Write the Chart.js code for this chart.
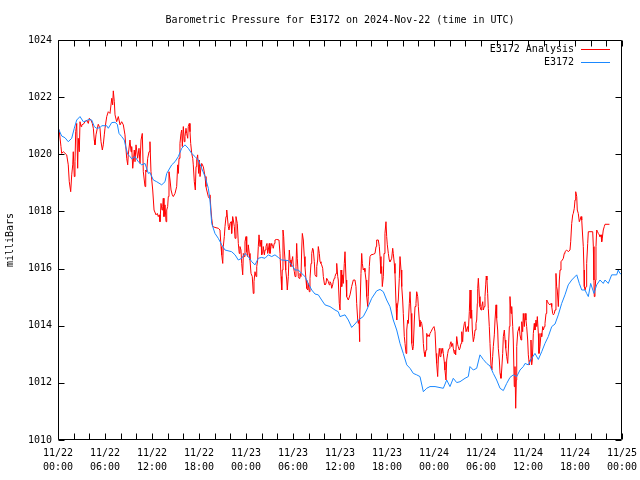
<!DOCTYPE html>
<html><head><meta charset="utf-8">
<script src="https://cdn.jsdelivr.net/npm/chart.js@4/dist/chart.umd.min.js"></script>
<style>html,body{margin:0;padding:0;background:#fff}canvas{display:block}</style>
</head><body><canvas id="c" width="640" height="480"></canvas>
<script>
// Hours since 2024-11-22 00:00 UTC
const analysisHours = [0,0.17,0.38,0.47,0.68,1.11,1.31,1.44,1.62,1.75,1.88,1.95,2.08,2.17,2.26,2.39,2.51,2.59,2.72,2.81,2.94,3.03,3.23,3.45,3.66,3.87,4.0,4.21,4.38,4.51,4.63,4.72,4.85,5.02,5.14,5.36,5.49,5.66,5.78,5.91,6.0,6.22,6.42,6.64,6.86,6.98,7.06,7.19,7.28,7.49,7.70,7.92,8.13,8.34,8.55,8.64,8.77,8.90,8.97,9.19,9.32,9.41,9.54,9.74,9.83,9.96,10.17,10.34,10.47,10.60,10.76,10.89,11.11,11.20,11.32,11.45,11.62,11.74,11.87,12.09,12.26,12.51,12.68,12.80,12.93,13.02,13.15,13.28,13.37,13.44,13.53,13.66,13.79,13.88,14.0,14.08,14.17,14.30,14.43,14.59,14.72,14.94,15.15,15.28,15.36,15.45,15.57,15.70,15.79,15.87,16.0,16.12,16.21,16.34,16.43,16.56,16.63,16.76,16.85,16.94,17.07,17.20,17.27,17.40,17.53,17.62,17.71,17.83,17.96,18.04,18.13,18.26,18.34,18.55,18.77,18.89,18.98,19.19,19.31,19.40,19.53,19.62,19.75,20.04,20.46,20.68,20.81,20.90,21.03,21.10,21.23,21.32,21.45,21.54,21.66,21.74,21.83,21.96,22.09,22.17,22.30,22.38,22.51,22.60,22.72,22.89,23.02,23.14,23.23,23.36,23.45,23.58,23.66,23.78,23.87,24.0,24.09,24.22,24.29,24.42,24.51,24.64,24.80,24.93,25.02,25.15,25.28,25.37,25.49,25.57,25.66,25.79,25.92,26.0,26.13,26.21,26.34,26.43,26.55,26.68,26.77,26.85,26.97,27.06,27.19,27.28,27.41,27.48,27.61,27.70,27.92,28.21,28.34,28.47,28.56,28.63,28.72,28.81,28.89,28.98,29.07,29.20,29.27,29.40,29.53,29.62,29.74,29.83,29.96,30.04,30.17,30.26,30.38,30.47,30.55,30.68,30.77,30.89,31.02,31.11,31.19,31.32,31.44,31.53,31.66,31.75,31.88,31.95,32.08,32.17,32.30,32.39,32.51,32.59,32.72,32.81,32.94,33.03,33.15,33.23,33.36,33.45,33.57,33.66,33.79,33.87,34.0,34.08,34.21,34.30,34.43,34.51,34.63,34.72,34.85,34.94,35.07,35.14,35.27,35.36,35.49,35.58,35.71,35.78,35.91,36.0,36.13,36.22,36.34,36.42,36.55,36.64,36.77,36.85,37.06,37.28,37.49,37.70,37.91,38.04,38.13,38.26,38.34,38.43,38.47,38.55,38.68,38.77,38.85,38.97,39.10,39.19,39.32,39.41,39.54,39.61,39.74,39.83,39.96,40.25,40.47,40.60,40.68,40.89,41.02,41.11,41.23,41.32,41.40,41.53,41.62,41.74,41.87,41.96,42.04,42.17,42.29,42.38,42.51,42.60,42.73,42.80,42.93,43.02,43.15,43.24,43.31,43.44,43.57,43.66,43.79,43.88,44.0,44.08,44.21,44.30,44.43,44.52,44.64,44.72,44.85,44.94,45.07,45.16,45.28,45.36,45.49,45.58,45.70,45.79,45.92,46.0,46.12,46.21,46.34,46.43,46.56,46.64,46.73,46.85,46.98,47.07,47.20,47.27,47.40,47.49,47.62,47.83,48.0,48.13,48.26,48.34,48.47,48.55,48.68,48.77,48.89,48.98,49.11,49.19,49.31,49.40,49.53,49.62,49.75,49.83,49.96,50.04,50.17,50.26,50.39,50.46,50.59,50.68,50.77,50.90,51.03,51.10,51.23,51.32,51.45,51.54,51.66,51.74,51.87,51.96,52.09,52.17,52.30,52.38,52.51,52.60,52.72,52.81,52.89,53.02,53.15,53.24,53.36,53.45,53.53,53.58,53.66,53.79,53.87,54.0,54.09,54.22,54.29,54.42,54.51,54.60,54.67,54.76,54.85,54.93,55.06,55.15,55.28,55.37,55.49,55.57,55.70,55.79,55.92,56.0,56.13,56.21,56.34,56.43,56.55,56.64,56.77,56.85,56.98,57.07,57.16,57.28,57.41,57.49,57.62,57.70,57.83,57.92,58.05,58.12,58.25,58.34,58.43,58.51,58.56,58.69,58.77,58.89,58.98,59.11,59.20,59.32,59.40,59.53,59.62,59.74,59.83,59.96,60.04,60.17,60.26,60.38,60.47,60.55,60.68,60.80,60.89,61.02,61.11,61.19,61.32,61.40,61.53,61.66,61.75,61.88,61.96,62.09,62.17,62.30,62.39,62.51,62.59,62.81,62.94,63.03,63.15,63.24,63.36,63.45,63.57,63.66,63.74,63.87,64.0,64.09,64.21,64.38,64.51,64.63,64.72,64.94,65.14,65.36,65.45,65.58,65.71,65.78,65.91,66.0,66.09,66.22,66.29,66.42,66.55,66.64,66.77,66.86,66.93,67.06,67.15,67.19,67.28,67.41,67.49,67.62,67.70,68.26,68.34,68.42,68.46,68.55,68.64,68.68,68.77,68.89,68.97,69.10,69.19,69.32,69.41,69.48,69.61,69.74,69.83,70.40];
const analysisPressure = [1020.97,1020.79,1020.27,1020.03,1020.09,1019.98,1019.63,1019.04,1018.69,1019.28,1019.63,1020.09,1019.22,1019.74,1020.79,1021.08,1019.51,1020.56,1020.09,1021.14,1020.97,1021.03,1021.05,1021.14,1021.2,1021.08,1021.26,1021.2,1021.08,1020.91,1020.5,1020.33,1020.68,1020.91,1021.05,1020.91,1020.44,1020.15,1020.33,1020.68,1020.91,1021.32,1021.49,1021.43,1021.96,1021.73,1022.22,1021.84,1021.38,1021.14,1021.32,1021.03,1021.14,1021.03,1020.68,1020.33,1019.86,1019.63,1019.98,1020.5,1020.09,1020.27,1019.51,1020.15,1019.74,1020.33,1019.86,1020.21,1019.68,1020.5,1020.73,1019.39,1018.87,1019.45,1019.39,1019.86,1020.09,1020.44,1019.39,1018.75,1018.05,1017.88,1017.93,1017.82,1017.88,1017.64,1018.28,1018.05,1018.17,1018.46,1017.82,1018.23,1017.64,1018.05,1018.17,1018.52,1019.39,1019.1,1018.75,1018.58,1018.52,1018.63,1018.87,1019.63,1019.33,1019.86,1020.38,1020.73,1020.85,1020.27,1020.97,1020.44,1020.62,1020.91,1020.73,1020.56,1020.97,1021.08,1020.79,1020.38,1020.03,1019.86,1019.63,1019.04,1018.75,1019.57,1019.8,1019.98,1019.33,1019.8,1019.22,1019.57,1019.68,1019.57,1019.22,1018.87,1018.75,1018.52,1018.46,1018.58,1018.05,1017.76,1017.47,1017.44,1017.41,1017.35,1016.77,1016.48,1016.18,1016.77,1017.12,1017.47,1017.82,1018.05,1017.7,1017.47,1017.35,1017.58,1017.64,1017.23,1017.82,1017.7,1017.47,1017.06,1017.82,1017.58,1016.88,1016.53,1016.77,1016.65,1016.18,1015.78,1016.53,1016.42,1016.94,1017.12,1016.59,1016.42,1016.83,1016.53,1016.3,1015.83,1015.72,1015.13,1015.54,1015.89,1015.72,1016.07,1016.3,1016.77,1017.18,1016.77,1017.0,1016.48,1016.53,1016.77,1016.48,1016.65,1016.77,1016.88,1016.53,1016.65,1016.88,1016.53,1016.77,1016.88,1016.77,1016.71,1016.88,1017.0,1017.02,1017.0,1016.53,1015.72,1015.25,1015.95,1017.35,1017.12,1016.65,1016.3,1015.95,1015.6,1015.25,1015.72,1016.65,1016.3,1016.07,1016.24,1016.42,1016.07,1015.89,1015.72,1016.07,1016.88,1016.36,1015.72,1015.66,1015.83,1015.72,1016.65,1017.23,1017.0,1016.42,1016.07,1015.6,1015.31,1015.25,1015.48,1015.19,1015.66,1016.18,1016.53,1016.71,1016.65,1016.24,1015.78,1015.72,1016.07,1016.3,1016.77,1016.53,1016.24,1016.18,1016.13,1016.01,1015.72,1015.48,1015.43,1015.48,1015.66,1015.6,1015.54,1015.43,1015.54,1015.48,1015.31,1015.43,1015.54,1015.66,1015.72,1015.83,1016.18,1015.72,1015.6,1014.78,1014.55,1015.95,1015.37,1015.78,1015.48,1016.18,1016.59,1015.6,1015.02,1014.9,1015.08,1015.37,1015.6,1015.6,1015.37,1014.78,1014.2,1014.08,1014.2,1013.44,1014.2,1015.83,1016.53,1016.18,1015.95,1016.01,1015.89,1015.6,1015.02,1014.67,1015.02,1016.07,1016.42,1016.48,1016.5,1016.53,1016.77,1017.0,1017.0,1016.77,1016.42,1015.83,1016.07,1015.37,1015.72,1016.53,1017.23,1017.64,1017.12,1016.83,1016.53,1016.3,1016.24,1016.3,1016.36,1016.71,1016.53,1016.18,1015.83,1014.78,1014.2,1014.61,1014.9,1015.66,1016.42,1015.95,1015.37,1014.9,1014.43,1013.62,1013.38,1013.03,1013.85,1014.2,1014.08,1014.78,1015.19,1014.43,1013.38,1013.15,1013.27,1014.2,1014.67,1014.78,1015.19,1015.02,1014.67,1014.2,1013.97,1014.14,1014.08,1013.85,1013.38,1013.09,1012.92,1013.15,1013.73,1013.62,1013.68,1013.62,1013.73,1013.79,1013.91,1013.97,1013.79,1013.03,1012.68,1012.22,1012.8,1013.21,1012.92,1013.21,1013.03,1013.21,1013.03,1012.74,1012.45,1012.1,1012.8,1013.03,1013.15,1013.21,1013.33,1013.44,1013.27,1013.38,1013.21,1013.03,1013.15,1012.98,1013.62,1013.33,1013.27,1013.15,1013.21,1013.38,1013.79,1013.44,1013.85,1014.08,1014.14,1013.79,1013.79,1013.97,1013.79,1014.49,1015.25,1014.26,1014.55,1013.85,1013.44,1013.62,1013.85,1014.08,1014.2,1014.78,1015.31,1015.66,1015.02,1014.67,1014.55,1014.67,1014.84,1014.55,1014.67,1015.02,1015.43,1015.74,1015.6,1015.13,1014.61,1013.97,1013.38,1012.57,1012.45,1012.92,1013.27,1013.68,1014.2,1014.73,1014.26,1013.85,1013.21,1012.8,1012.33,1012.16,1012.45,1013.03,1013.62,1013.85,1013.5,1013.21,1012.92,1012.68,1013.15,1013.97,1015.02,1014.43,1014.67,1013.97,1013.5,1011.87,1012.57,1011.11,1012.1,1013.27,1013.79,1013.85,1013.97,1013.68,1013.5,1014.14,1013.79,1014.43,1013.97,1014.43,1014.2,1013.97,1013.5,1012.98,1012.63,1012.8,1013.5,1012.63,1012.8,1013.73,1014.08,1013.85,1014.2,1013.97,1014.32,1013.73,1013.03,1013.27,1013.73,1013.62,1013.97,1013.85,1013.97,1014.08,1014.43,1014.9,1014.84,1014.78,1014.73,1014.78,1014.67,1014.43,1014.38,1014.43,1014.55,1015.83,1015.37,1015.25,1014.67,1015.6,1015.95,1016.24,1016.3,1016.36,1016.53,1016.59,1016.65,1016.59,1016.65,1016.94,1017.58,1017.88,1017.93,1018.11,1018.4,1018.69,1018.52,1018.05,1017.93,1017.64,1017.7,1017.82,1017.7,1017.35,1016.77,1015.95,1015.37,1015.25,1015.37,1016.18,1016.88,1017.29,1017.29,1016.77,1015.6,1015.02,1015.25,1015.6,1016.77,1017.35,1017.29,1017.23,1017.18,1017.12,1017.18,1016.94,1017.06,1017.35,1017.47,1017.55,1017.55];
const stationHours = [0,0.47,0.89,1.31,1.75,2.08,2.39,2.81,3.23,3.66,3.87,4.30,4.63,4.94,5.36,5.58,6.22,6.42,6.86,7.28,7.57,7.79,8.13,8.46,8.64,8.90,9.19,9.41,9.83,10.25,10.69,11.11,11.53,11.74,12.17,12.60,13.24,13.66,13.88,14.52,14.94,15.36,15.79,16.21,16.63,17.07,17.49,17.91,18.34,18.77,19.19,19.40,19.62,20.04,20.46,20.90,21.32,22.17,22.60,23.02,23.45,23.87,24.29,24.73,25.15,25.57,26.0,26.42,26.85,27.28,27.70,28.12,28.56,29.40,29.83,30.26,30.68,31.11,31.53,31.95,32.39,32.81,33.23,33.66,34.08,34.72,35.36,35.78,36.0,36.64,37.06,37.49,37.91,38.34,38.97,39.41,40.05,40.68,41.11,41.53,41.96,42.38,42.80,43.24,43.66,44.08,44.52,44.94,45.36,45.79,46.21,46.64,47.07,47.49,48.13,49.19,49.62,50.04,50.46,50.90,51.32,51.96,52.38,52.59,53.02,53.45,53.87,54.29,54.73,55.15,55.57,56.0,56.43,56.85,57.28,57.70,58.12,58.56,58.98,59.40,59.62,60.04,60.47,60.89,61.32,61.75,62.17,62.59,63.03,63.45,63.87,64.30,64.72,65.14,65.58,66.22,66.55,66.86,67.28,67.49,67.70,68.00,68.42,68.77,69.19,69.61,69.83,70.25,70.68,71.32,71.52,71.74,72.0];
const stationPressure = [1020.93,1020.64,1020.58,1020.44,1020.56,1020.91,1021.2,1021.32,1021.14,1021.17,1021.22,1021.2,1020.97,1020.91,1020.93,1021.0,1021.0,1020.91,1021.11,1021.12,1021.05,1020.73,1020.62,1020.5,1020.27,1020.0,1019.92,1019.84,1019.92,1019.74,1019.63,1019.68,1019.33,1019.36,1019.1,1019.04,1018.93,1019.04,1019.33,1019.63,1019.74,1019.92,1020.21,1020.33,1020.21,1020.03,1019.92,1019.8,1019.51,1019.22,1018.81,1018.4,1017.58,1017.23,1017.06,1016.83,1016.65,1016.59,1016.48,1016.3,1016.36,1016.53,1016.42,1016.24,1016.13,1016.36,1016.39,1016.36,1016.48,1016.42,1016.48,1016.39,1016.3,1016.28,1016.13,1015.95,1015.95,1015.83,1015.72,1015.48,1015.25,1015.11,1015.08,1014.9,1014.73,1014.67,1014.55,1014.49,1014.32,1014.38,1014.2,1013.94,1014.06,1014.2,1014.32,1014.55,1014.96,1015.22,1015.27,1015.19,1014.9,1014.67,1014.2,1013.85,1013.38,1013.03,1012.63,1012.51,1012.33,1012.28,1012.22,1011.69,1011.81,1011.87,1011.87,1011.81,1012.1,1011.87,1012.16,1012.01,1012.04,1012.16,1012.22,1012.57,1012.45,1012.51,1012.98,1012.82,1012.68,1012.59,1012.33,1012.1,1011.81,1011.73,1011.98,1012.19,1012.28,1012.22,1012.45,1012.57,1012.68,1012.63,1012.86,1013.03,1012.82,1013.09,1013.38,1013.62,1013.97,1014.06,1014.38,1014.78,1015.08,1015.43,1015.6,1015.78,1015.48,1015.25,1015.25,1015.13,1015.02,1015.48,1015.13,1015.43,1015.6,1015.48,1015.6,1015.48,1015.78,1015.78,1015.95,1015.83,1015.8];
const xTickHours = [0,6,12,18,24,30,36,42,48,54,60,66,72];
const yTickValues = [1010,1012,1014,1016,1018,1020,1022,1024];
const titleText = 'Barometric Pressure for E3172 on 2024-Nov-22 (time in UTC)';
const FONT = '"DejaVu Sans Mono", "Liberation Mono", monospace';

function tickLabel(h) {
  const day = 22 + Math.floor(h / 24);
  const hr = h % 24;
  return ['11/' + day, String(hr).padStart(2, '0') + ':00'];
}

const decorPlugin = {
  id: 'decor',
  afterDraw(chart) {
    const ctx = chart.ctx, a = chart.chartArea, xs = chart.scales.x, ys = chart.scales.y;
    ctx.save();
    ctx.strokeStyle = '#000'; ctx.lineWidth = 1;
    const L = Math.round(a.left) + 0.5, R = Math.round(a.right) - 0.5, T = Math.round(a.top) + 0.5, B = Math.round(a.bottom) - 0.5;
    ctx.beginPath();
    ctx.rect(L, T, R - L, B - T);
    const tl = 6;
    for (const v of yTickValues) {
      const py = Math.round(ys.getPixelForValue(v)) + 0.5;
      ctx.moveTo(L, py); ctx.lineTo(L + tl, py);
      ctx.moveTo(R, py); ctx.lineTo(R - tl, py);
    }
    for (let h = 0; h <= 72; h += 2) {
      const px = Math.round(xs.getPixelForValue(h)) + 0.5;
      ctx.moveTo(px, B); ctx.lineTo(px, B - tl);
      ctx.moveTo(px, T); ctx.lineTo(px, T + tl);
    }
    ctx.stroke();
    // title
    ctx.fillStyle = '#000';
    ctx.font = '10px ' + FONT;
    ctx.textAlign = 'center'; ctx.textBaseline = 'middle';
    ctx.fillText(titleText, (a.left + a.right) / 2, 20);
    // legend
    ctx.textAlign = 'right';
    const ds = chart.data.datasets;
    const rows = [ds[0], ds[1]];
    rows.forEach((d, i) => {
      const y = 49 + i * 13;
      ctx.fillStyle = '#000';
      ctx.fillText(d.label, 574, y);
      ctx.strokeStyle = d.borderColor;
      ctx.beginPath();
      ctx.moveTo(581, y + 0.5); ctx.lineTo(610, y + 0.5);
      ctx.stroke();
    });
    ctx.restore();
  }
};

new Chart(document.getElementById('c'), {
  type: 'line',
  data: {
    datasets: [
      { label: 'E3172 Analysis', data: analysisHours.map((h, i) => ({ x: h, y: analysisPressure[i] })),
        borderColor: '#ff0000', borderWidth: 1, pointRadius: 0, tension: 0, fill: false, order: 1 },
      { label: 'E3172', data: stationHours.map((h, i) => ({ x: h, y: stationPressure[i] })),
        borderColor: '#1a88ff', borderWidth: 1, pointRadius: 0, tension: 0, fill: false, order: 0 }
    ]
  },
  options: {
    responsive: false, animation: false, devicePixelRatio: 1,
    layout: { padding: { top: 40, right: 18, left: 0, bottom: 0 } },
    plugins: { legend: { display: false }, title: { display: false }, tooltip: { enabled: false } },
    scales: {
      x: {
        type: 'linear', min: 0, max: 72,
        grid: { display: false, drawTicks: false }, border: { display: false },
        afterBuildTicks: (s) => { s.ticks = xTickHours.map(v => ({ value: v })); },
        ticks: { autoSkip: false, maxRotation: 0, minRotation: 0, padding: 6, color: '#000',
          font: { family: FONT, size: 10, lineHeight: 1.4 }, callback: (v) => tickLabel(v) },
        afterFit: (s) => { s.height = 40; s.paddingLeft = 0; s.paddingRight = 0; }
      },
      y: {
        min: 1010, max: 1024,
        grid: { display: false, drawTicks: false }, border: { display: false },
        afterBuildTicks: (s) => { s.ticks = yTickValues.map(v => ({ value: v })); },
        ticks: { padding: 6, color: '#000', font: { family: FONT, size: 10 }, callback: (v) => String(v) },
        title: { display: true, text: 'milliBars', color: '#000', font: { family: FONT, size: 10 }, padding: { top: 4, bottom: 0 } },
        afterFit: (s) => { s.width = 58; s.paddingTop = 0; s.paddingBottom = 0; }
      }
    }
  },
  plugins: [decorPlugin]
});
</script></body></html>
